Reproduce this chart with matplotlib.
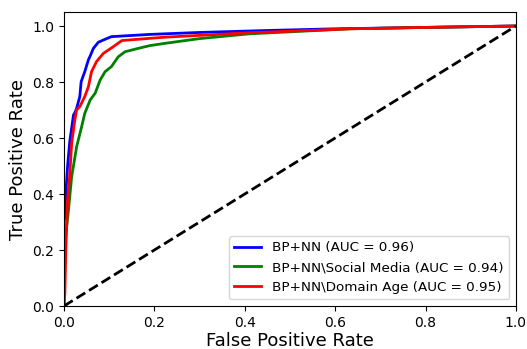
#!/usr/bin/env python3

import matplotlib
matplotlib.use('Agg')
import matplotlib.pyplot as plt


# ROC points.
fpr_bp = [0.0, 0.0, 0.002, 0.004, 0.008, 0.013, 0.021, 0.024, 0.028, 0.035,
          0.038, 0.046, 0.054, 0.058, 0.065, 0.076, 0.09, 0.105, 0.19, 0.3,
          0.45, 0.6, 0.8, 1.0]
tpr_bp = [0.0, 0.30, 0.32, 0.40, 0.50, 0.59, 0.682, 0.690, 0.706, 0.748,
          0.801, 0.837, 0.879, 0.893, 0.920, 0.942, 0.952, 0.962, 0.970,
          0.977, 0.984, 0.990, 0.995, 1.0]

fpr_sm = [0.0, 0.0, 0.003, 0.006, 0.010, 0.017, 0.028, 0.039, 0.046, 0.058,
          0.069, 0.080, 0.091, 0.105, 0.120, 0.135, 0.164, 0.19, 0.223,
          0.3, 0.41, 0.633, 0.8, 1.0]
tpr_sm = [0.0, 0.20, 0.24, 0.283, 0.343, 0.462, 0.569, 0.640, 0.688, 0.736,
          0.760, 0.807, 0.837, 0.855, 0.890, 0.908, 0.920, 0.930, 0.938,
          0.955, 0.972, 0.990, 0.995, 1.0]

fpr_da = [0.0, 0.002, 0.004, 0.008, 0.013, 0.017, 0.024, 0.028, 0.035,
          0.046, 0.054, 0.061, 0.072, 0.087, 0.109, 0.128, 0.19, 0.223,
          0.4, 0.633, 0.8, 1.0]
tpr_da = [0.0, 0.046, 0.20, 0.379, 0.474, 0.581, 0.664, 0.700, 0.712,
          0.748, 0.783, 0.837, 0.873, 0.902, 0.926, 0.948, 0.956, 0.960,
          0.975, 0.990, 0.995, 1.0]

labels = ['BP+NN (AUC = 0.96)',
          'BP+NN\\Social Media (AUC = 0.94)',
          'BP+NN\\Domain Age (AUC = 0.95)']


# Figure.
fig = plt.figure(figsize=(5.27, 3.49), dpi=100)
ax = fig.add_axes((0.1214, 0.1232, 0.8576, 0.8424))

ax.plot(fpr_bp, tpr_bp, color='blue', lw=2, label=labels[0])
ax.plot(fpr_sm, tpr_sm, color='green', lw=2, label=labels[1])
ax.plot(fpr_da, tpr_da, color='red', lw=2, label=labels[2])
ax.plot([0, 1], [0, 1], 'k--', lw=2)

ax.set_xlim(0.0, 1.0)
ax.set_ylim(0.0, 1.05)
ax.set_xlabel('False Positive Rate', fontsize=13, labelpad=1.5)
ax.set_ylabel('True Positive Rate', fontsize=13)
ax.tick_params(labelsize=10)
ax.legend(loc='lower right', fontsize=9.7)

fig.savefig('out.png', dpi=100)
